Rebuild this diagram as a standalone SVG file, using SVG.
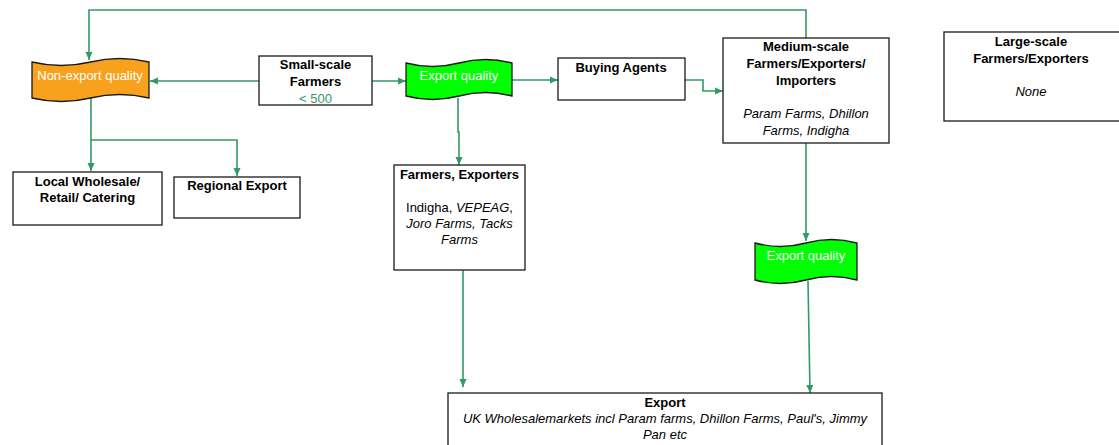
<svg xmlns="http://www.w3.org/2000/svg" width="1119" height="445" viewBox="0 0 1119 445">
  <style>
    text { font-family: "Liberation Sans", Arial, sans-serif; font-size: 13px; text-anchor: middle; fill: #000; }
    .b { font-weight: bold; }
    .i { font-style: italic; }
    .w { fill: #fff; }
    .g { fill: #339966; }
    .box { fill: #fff; stroke: #1a1a1a; stroke-width: 1.3; }
    .tape { stroke: #1a1a1a; stroke-width: 1.3; }
    .link { fill: none; stroke: #339966; stroke-width: 1.6; }
  </style>
  <defs>
    <marker id="arr" markerUnits="userSpaceOnUse" markerWidth="9" markerHeight="8" refX="8" refY="4" orient="auto">
      <path d="M0,0.5 L8,4 L0,7.5 z" fill="#339966"/>
    </marker>
  </defs>
  <rect width="1119" height="445" fill="#fff"/>

  <!-- connectors -->
  <g id="connectors">
    <path class="link" d="M806,38 V10 H89 V60" marker-end="url(#arr)"/>
    <path class="link" d="M259,81 H150" marker-end="url(#arr)"/>
    <path class="link" d="M91,98 V171" marker-end="url(#arr)"/>
    <path class="link" d="M91,140 H237 V176" marker-end="url(#arr)"/>
    <path class="link" d="M372,81 H406" marker-end="url(#arr)"/>
    <path class="link" d="M512,80 H558" marker-end="url(#arr)"/>
    <path class="link" d="M685,80 H703 V91 H723" marker-end="url(#arr)"/>
    <path class="link" d="M458,98 V132 H459 V165" marker-end="url(#arr)"/>
    <path class="link" d="M463,270 V387" marker-end="url(#arr)"/>
    <path class="link" d="M806,143 V241" marker-end="url(#arr)"/>
    <path class="link" d="M808,281 L810,393" marker-end="url(#arr)"/>
  </g>

  <!-- non-export quality tape -->
  <g id="non-export">
    <path class="tape" fill="#f8a11c" d="M32,62 Q61.25,69 90.5,62 T149,62 L149,98 Q119.75,91 90.5,98 T32,98 Z"/>
    <text class="w" x="90" y="80">Non-export quality</text>
  </g>

  <g id="small-scale">
    <rect class="box" x="259" y="56" width="113" height="49"/>
    <text class="b" x="315.5" y="69">Small-scale</text>
    <text class="b" x="315.5" y="86">Farmers</text>
    <text class="g" x="315.5" y="103">&lt; 500</text>
  </g>

  <g id="export-quality-1">
    <path class="tape" fill="#00ff00" d="M406,63 Q432.5,70 459,63 T512,63 L512,96 Q485.5,89 459,96 T406,96 Z"/>
    <text class="w" x="459" y="80">Export quality</text>
  </g>

  <g id="buying-agents">
    <rect class="box" x="558" y="58" width="127" height="42"/>
    <text class="b" x="621" y="72">Buying Agents</text>
  </g>

  <g id="medium-scale">
    <rect class="box" x="723" y="38" width="166" height="105"/>
    <text class="b" x="806" y="51">Medium-scale</text>
    <text class="b" x="806" y="68">Farmers/Exporters/</text>
    <text class="b" x="806" y="85">Importers</text>
    <text class="i" x="806" y="118">Param Farms, Dhillon</text>
    <text class="i" x="806" y="135">Farms, Indigha</text>
  </g>

  <g id="large-scale">
    <rect class="box" x="944" y="32" width="180" height="89"/>
    <text class="b" x="1031" y="46">Large-scale</text>
    <text class="b" x="1031" y="63">Farmers/Exporters</text>
    <text class="i" x="1031" y="96">None</text>
  </g>

  <g id="local-wholesale">
    <rect class="box" x="13" y="172" width="149" height="53"/>
    <text class="b" x="87.5" y="186">Local Wholesale/</text>
    <text class="b" x="87.5" y="202">Retail/ Catering</text>
  </g>

  <g id="regional-export">
    <rect class="box" x="174" y="177" width="126" height="41"/>
    <text class="b" x="237" y="190">Regional Export</text>
  </g>

  <g id="farmers-exporters">
    <rect class="box" x="394" y="165" width="131" height="105"/>
    <text class="b" x="459.5" y="179">Farmers, Exporters</text>
    <text x="459.5" y="212">Indigha, <tspan class="i">VEPEAG</tspan>,</text>
    <text class="i" x="459.5" y="228">Joro Farms, Tacks</text>
    <text class="i" x="459.5" y="244">Farms</text>
  </g>

  <g id="export-quality-2">
    <path class="tape" fill="#00ff00" d="M755,243 Q780.5,250 806,243 T857,243 L857,280 Q831.5,273 806,280 T755,280 Z"/>
    <text class="w" x="806" y="260">Export quality</text>
  </g>

  <g id="export">
    <rect class="box" x="448" y="393" width="434" height="60"/>
    <text class="b" x="665" y="407">Export</text>
    <text class="i" x="665" y="423">UK Wholesalemarkets incl Param farms, Dhillon Farms, Paul's, Jimmy</text>
    <text class="i" x="665" y="439">Pan etc</text>
  </g>
</svg>
